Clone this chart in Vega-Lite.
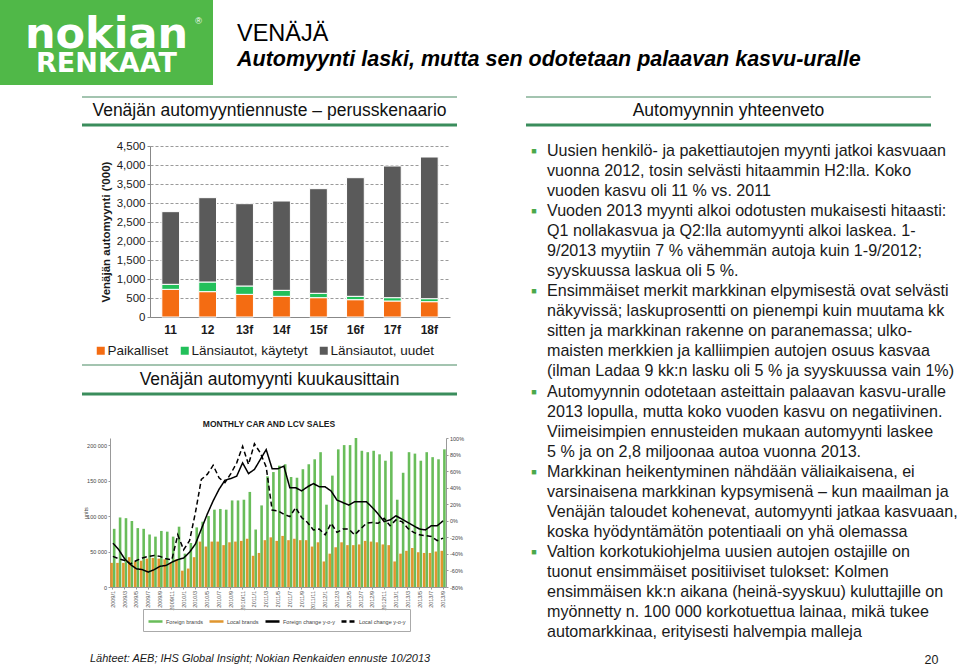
{
  "$schema": "https://vega.github.io/schema/vega-lite/v6.json",
  "padding": 0,
  "background": "white",
  "spacing": 11,
  "config": {"view": {"stroke": null}, "font": "Liberation Sans", "concat": {"spacing": 0}},
  "resolve": {"scale": {"color": "independent", "strokeDash": "independent"}, "legend": {"color": "independent", "strokeDash": "independent"}},
  "vconcat": [
    {
      "hconcat": [
        {
          "width": 213, "height": 85,
          "view": {"fill": "#50b848", "stroke": null},
          "data": {"values": [{"a": "nokian", "b": "RENKAAT", "c": "®"}]},
          "layer": [
            {"mark": {"type": "text", "font": "DejaVu Sans", "fontWeight": "bold", "fontSize": 43, "color": "white", "baseline": "alphabetic", "dy": 5}, "encoding": {"text": {"field": "a"}}},
            {"mark": {"type": "text", "font": "DejaVu Sans", "fontWeight": "bold", "fontSize": 27, "color": "white", "baseline": "alphabetic", "dy": 29.5}, "encoding": {"text": {"field": "b"}}},
            {"mark": {"type": "text", "fontSize": 9, "color": "white", "dx": 92, "dy": -22}, "encoding": {"text": {"field": "c"}}}
          ]
        },
        {"width": 23, "height": 1, "data": {"values": []}, "mark": "text", "encoding": {"text": {"value": ""}}},
        {
          "width": 2, "height": 85,
          "data": {"values": [{"t1": "VENÄJÄ", "t2": "Automyynti laski, mutta sen odotetaan palaavan kasvu-uralle"}]},
          "layer": [
            {"mark": {"type": "text", "align": "left", "baseline": "alphabetic", "fontSize": 23.5, "color": "#000000", "dy": -1.5}, "encoding": {"text": {"field": "t1"}}},
            {"mark": {"type": "text", "align": "left", "baseline": "alphabetic", "fontSize": 21.5, "fontWeight": "bold", "fontStyle": "italic", "color": "#000000", "dy": 23.5}, "encoding": {"text": {"field": "t2"}}}
          ]
        }
      ]
    },
    {
      "resolve": {"scale": {"color": "independent", "strokeDash": "independent"}, "legend": {"color": "independent", "strokeDash": "independent"}},
      "hconcat": [
        {"width": 80, "height": 1, "data": {"values": []}, "mark": "text", "encoding": {"text": {"value": ""}}},
        {
          "resolve": {"scale": {"color": "independent", "strokeDash": "independent"}, "legend": {"color": "independent", "strokeDash": "independent"}},
          "vconcat": [
            {
              "width": 375, "height": 28,
              "data": {"values": [{"t": "Venäjän automyyntiennuste – perusskenaario"}]},
              "layer": [
                {"mark": {"type": "rule", "color": "#a3c4b0", "strokeWidth": 2}, "encoding": {"y": {"datum": 1, "type": "quantitative", "scale": {"domain": [0, 1]}, "axis": null}}},
                {"mark": {"type": "rule", "color": "#3a8d5c", "strokeWidth": 3}, "encoding": {"y": {"datum": 0, "type": "quantitative"}}},
                {"mark": {"type": "text", "fontSize": 17.5, "color": "#111111"}, "encoding": {"text": {"field": "t"}}}
              ]
            },
            {"width": 1, "height": 12.75, "data": {"values": []}, "mark": "text", "encoding": {"text": {"value": ""}}},
            {
              "resolve": {"scale": {"color": "independent"}, "legend": {"color": "independent"}},
              "hconcat": [
                {"width": 12, "height": 1, "data": {"values": []}, "mark": "text", "encoding": {"text": {"value": ""}}},
                {
                  "width": 300, "height": 171,
                  "data": {"values": [
                    {"y": "11", "Paikalliset": 728, "Länsiautot, käytetyt": 132, "Länsiautot, uudet": 1912},
                    {"y": "12", "Paikalliset": 667, "Länsiautot, käytetyt": 254, "Länsiautot, uudet": 2219},
                    {"y": "13f", "Paikalliset": 596, "Länsiautot, käytetyt": 220, "Länsiautot, uudet": 2166},
                    {"y": "14f", "Paikalliset": 544, "Länsiautot, käytetyt": 158, "Länsiautot, uudet": 2350},
                    {"y": "15f", "Paikalliset": 509, "Länsiautot, käytetyt": 114, "Länsiautot, uudet": 2754},
                    {"y": "16f", "Paikalliset": 456, "Länsiautot, käytetyt": 88, "Länsiautot, uudet": 3122},
                    {"y": "17f", "Paikalliset": 421, "Länsiautot, käytetyt": 88, "Länsiautot, uudet": 3464},
                    {"y": "18f", "Paikalliset": 403, "Länsiautot, käytetyt": 79, "Länsiautot, uudet": 3728}
                  ]},
                  "transform": [
                    {"fold": ["Paikalliset", "Länsiautot, käytetyt", "Länsiautot, uudet"], "as": ["k", "v"]},
                    {"window": [{"op": "row_number", "as": "o"}], "groupby": ["y"]}
                  ],
                  "mark": {"type": "bar", "stroke": "white", "strokeWidth": 1},
                  "encoding": {
                    "x": {"field": "y", "type": "ordinal", "sort": null, "scale": {"paddingInner": 0.52, "paddingOuter": 0.32},
                      "axis": {"title": null, "labelAngle": 0, "labelFontWeight": "bold", "labelFontSize": 12, "labelColor": "#1a1a1a", "domainColor": "#888888", "ticks": false, "labelPadding": 7}},
                    "y": {"field": "v", "type": "quantitative", "stack": "zero", "scale": {"domain": [0, 4500], "nice": false},
                      "axis": {"values": [0, 500, 1000, 1500, 2000, 2500, 3000, 3500, 4000, 4500], "format": ",d", "title": "Venäjän automyynti ('000)", "titleFontSize": 11.5, "titleFontWeight": "bold", "titleColor": "#1a1a1a", "labelFontSize": 11.5, "labelColor": "#1a1a1a", "gridDash": [3, 2], "gridColor": "#9a9a9a", "domainColor": "#888888", "tickSize": 3, "tickColor": "#888888", "labelPadding": 2, "titlePadding": 5}},
                    "color": {"field": "k", "type": "nominal",
                      "scale": {"domain": ["Paikalliset", "Länsiautot, käytetyt", "Länsiautot, uudet"], "range": ["#f46c12", "#22c05a", "#5a5a5a"]},
                      "legend": {"title": null, "orient": "none", "legendX": -56, "legendY": 198, "direction": "horizontal", "gridAlign": "none", "symbolType": "square", "symbolSize": 64, "symbolStrokeWidth": 0, "labelFontSize": 13.5, "labelColor": "#1a1a1a", "columnPadding": 9, "labelOffset": 0}},
                    "order": {"field": "o", "type": "quantitative"}
                  }
                }
              ]
            },
            {"width": 1, "height": 6, "data": {"values": []}, "mark": "text", "encoding": {"text": {"value": ""}}},
            {
              "width": 375, "height": 29,
              "data": {"values": [{"t": "Venäjän automyynti kuukausittain"}]},
              "layer": [
                {"mark": {"type": "rule", "color": "#a3c4b0", "strokeWidth": 2}, "encoding": {"y": {"datum": 1, "type": "quantitative", "scale": {"domain": [0, 1]}, "axis": null}}},
                {"mark": {"type": "rule", "color": "#3a8d5c", "strokeWidth": 3}, "encoding": {"y": {"datum": 0, "type": "quantitative"}}},
                {"mark": {"type": "text", "fontSize": 17.5, "color": "#111111"}, "encoding": {"text": {"field": "t"}}}
              ]
            },
            {"width": 1, "height": 23, "data": {"values": []}, "mark": "text", "encoding": {"text": {"value": ""}}},
            {
              "hconcat": [
                {"width": 1, "height": 1, "data": {"values": []}, "mark": "text", "encoding": {"text": {"value": ""}}},
                {
                  "width": 336, "height": 149,
                  "title": {"text": "MONTHLY CAR AND LCV SALES", "fontSize": 8.5, "fontWeight": "bold", "color": "#1a1a1a", "anchor": "middle", "dx": -9, "offset": 8},
                  "data": {"values": [
                    {"m": "2009/1", "Foreign brands": 82, "Local brands": 34, "Foreign change y-o-y": -27, "Local change y-o-y": -43},
                    {"m": "2009/2", "Foreign brands": 98, "Local brands": 34, "Foreign change y-o-y": -35, "Local change y-o-y": -46},
                    {"m": "2009/3", "Foreign brands": 97, "Local brands": 34, "Foreign change y-o-y": -46, "Local change y-o-y": -48},
                    {"m": "2009/4", "Foreign brands": 93, "Local brands": 42, "Foreign change y-o-y": -53, "Local change y-o-y": -52},
                    {"m": "2009/5", "Foreign brands": 83, "Local brands": 36, "Foreign change y-o-y": -58, "Local change y-o-y": -48},
                    {"m": "2009/6", "Foreign brands": 82, "Local brands": 37, "Foreign change y-o-y": -59, "Local change y-o-y": -45},
                    {"m": "2009/7", "Foreign brands": 74, "Local brands": 40, "Foreign change y-o-y": -62, "Local change y-o-y": -43},
                    {"m": "2009/8", "Foreign brands": 71, "Local brands": 41, "Foreign change y-o-y": -59, "Local change y-o-y": -42},
                    {"m": "2009/9", "Foreign brands": 79, "Local brands": 40, "Foreign change y-o-y": -55, "Local change y-o-y": -43},
                    {"m": "2009/10", "Foreign brands": 78, "Local brands": 39, "Foreign change y-o-y": -54, "Local change y-o-y": -46},
                    {"m": "2009/11", "Foreign brands": 71, "Local brands": 34, "Foreign change y-o-y": -50, "Local change y-o-y": -47},
                    {"m": "2009/12", "Foreign brands": 85, "Local brands": 39, "Foreign change y-o-y": -47, "Local change y-o-y": -17},
                    {"m": "2010/1", "Foreign brands": 47, "Local brands": 23, "Foreign change y-o-y": -45, "Local change y-o-y": -35},
                    {"m": "2010/2", "Foreign brands": 62, "Local brands": 26, "Foreign change y-o-y": -38, "Local change y-o-y": -24},
                    {"m": "2010/3", "Foreign brands": 84, "Local brands": 42, "Foreign change y-o-y": -28, "Local change y-o-y": 10},
                    {"m": "2010/4", "Foreign brands": 92, "Local brands": 64, "Foreign change y-o-y": -10, "Local change y-o-y": 50},
                    {"m": "2010/5", "Foreign brands": 100, "Local brands": 57, "Foreign change y-o-y": 8, "Local change y-o-y": 56},
                    {"m": "2010/6", "Foreign brands": 109, "Local brands": 64, "Foreign change y-o-y": 24, "Local change y-o-y": 67},
                    {"m": "2010/7", "Foreign brands": 110, "Local brands": 64, "Foreign change y-o-y": 38, "Local change y-o-y": 52},
                    {"m": "2010/8", "Foreign brands": 109, "Local brands": 59, "Foreign change y-o-y": 49, "Local change y-o-y": 46},
                    {"m": "2010/9", "Foreign brands": 122, "Local brands": 63, "Foreign change y-o-y": 51, "Local change y-o-y": 57},
                    {"m": "2010/10", "Foreign brands": 122, "Local brands": 64, "Foreign change y-o-y": 54, "Local change y-o-y": 70},
                    {"m": "2010/11", "Foreign brands": 123, "Local brands": 65, "Foreign change y-o-y": 70, "Local change y-o-y": 90},
                    {"m": "2010/12", "Foreign brands": 134, "Local brands": 68, "Foreign change y-o-y": 57, "Local change y-o-y": 68},
                    {"m": "2011/1", "Foreign brands": 81, "Local brands": 44, "Foreign change y-o-y": 62, "Local change y-o-y": 93},
                    {"m": "2011/2", "Foreign brands": 115, "Local brands": 48, "Foreign change y-o-y": 74, "Local change y-o-y": 82},
                    {"m": "2011/3", "Foreign brands": 156, "Local brands": 66, "Foreign change y-o-y": 86, "Local change y-o-y": 65},
                    {"m": "2011/4", "Foreign brands": 162, "Local brands": 70, "Foreign change y-o-y": 63, "Local change y-o-y": 13},
                    {"m": "2011/5", "Foreign brands": 171, "Local brands": 65, "Foreign change y-o-y": 63, "Local change y-o-y": 12},
                    {"m": "2011/6", "Foreign brands": 173, "Local brands": 72, "Foreign change y-o-y": 66, "Local change y-o-y": 8},
                    {"m": "2011/7", "Foreign brands": 155, "Local brands": 66, "Foreign change y-o-y": 40, "Local change y-o-y": 5},
                    {"m": "2011/8", "Foreign brands": 154, "Local brands": 68, "Foreign change y-o-y": 40, "Local change y-o-y": 16},
                    {"m": "2011/9", "Foreign brands": 166, "Local brands": 66, "Foreign change y-o-y": 36, "Local change y-o-y": 4},
                    {"m": "2011/10", "Foreign brands": 173, "Local brands": 66, "Foreign change y-o-y": 41, "Local change y-o-y": -2},
                    {"m": "2011/11", "Foreign brands": 180, "Local brands": 57, "Foreign change y-o-y": 45, "Local change y-o-y": -11},
                    {"m": "2011/12", "Foreign brands": 190, "Local brands": 63, "Foreign change y-o-y": 41, "Local change y-o-y": -10},
                    {"m": "2012/1", "Foreign brands": 116, "Local brands": 36, "Foreign change y-o-y": 41, "Local change y-o-y": -17},
                    {"m": "2012/2", "Foreign brands": 157, "Local brands": 47, "Foreign change y-o-y": 36, "Local change y-o-y": -3},
                    {"m": "2012/3", "Foreign brands": 194, "Local brands": 56, "Foreign change y-o-y": 25, "Local change y-o-y": -14},
                    {"m": "2012/4", "Foreign brands": 200, "Local brands": 63, "Foreign change y-o-y": 22, "Local change y-o-y": -10},
                    {"m": "2012/5", "Foreign brands": 200, "Local brands": 59, "Foreign change y-o-y": 19, "Local change y-o-y": -10},
                    {"m": "2012/6", "Foreign brands": 210, "Local brands": 59, "Foreign change y-o-y": 23, "Local change y-o-y": -17},
                    {"m": "2012/7", "Foreign brands": 192, "Local brands": 60, "Foreign change y-o-y": 23, "Local change y-o-y": -10},
                    {"m": "2012/8", "Foreign brands": 190, "Local brands": 65, "Foreign change y-o-y": 23, "Local change y-o-y": -3},
                    {"m": "2012/9", "Foreign brands": 192, "Local brands": 64, "Foreign change y-o-y": 16, "Local change y-o-y": -2},
                    {"m": "2012/10", "Foreign brands": 187, "Local brands": 63, "Foreign change y-o-y": 8, "Local change y-o-y": -3},
                    {"m": "2012/11", "Foreign brands": 178, "Local brands": 60, "Foreign change y-o-y": -1, "Local change y-o-y": 3},
                    {"m": "2012/12", "Foreign brands": 191, "Local brands": 59, "Foreign change y-o-y": 1, "Local change y-o-y": -6},
                    {"m": "2013/1", "Foreign brands": 123, "Local brands": 36, "Foreign change y-o-y": 6, "Local change y-o-y": 1},
                    {"m": "2013/2", "Foreign brands": 161, "Local brands": 47, "Foreign change y-o-y": 2, "Local change y-o-y": -1},
                    {"m": "2013/3", "Foreign brands": 190, "Local brands": 51, "Foreign change y-o-y": -2, "Local change y-o-y": -9},
                    {"m": "2013/4", "Foreign brands": 188, "Local brands": 55, "Foreign change y-o-y": -6, "Local change y-o-y": -14},
                    {"m": "2013/5", "Foreign brands": 178, "Local brands": 49, "Foreign change y-o-y": -10, "Local change y-o-y": -17},
                    {"m": "2013/6", "Foreign brands": 190, "Local brands": 48, "Foreign change y-o-y": -11, "Local change y-o-y": -18},
                    {"m": "2013/7", "Foreign brands": 183, "Local brands": 48, "Foreign change y-o-y": -6, "Local change y-o-y": -19},
                    {"m": "2013/8", "Foreign brands": 180, "Local brands": 50, "Foreign change y-o-y": -6, "Local change y-o-y": -24},
                    {"m": "2013/9", "Foreign brands": 194, "Local brands": 51, "Foreign change y-o-y": 0, "Local change y-o-y": -21}
                  ]},
                  "encoding": {
                    "x": {"field": "m", "type": "ordinal", "sort": null, "scale": {"paddingInner": 0.12, "paddingOuter": 0.05},
                      "axis": {"title": null, "values": ["2009/1","2009/3","2009/5","2009/7","2009/9","2009/11","2010/1","2010/3","2010/5","2010/7","2010/9","2010/11","2011/1","2011/3","2011/5","2011/7","2011/9","2011/11","2012/1","2012/3","2012/5","2012/7","2012/9","2012/11","2013/1","2013/3","2013/5","2013/7","2013/9"],
                        "labelAngle": -90, "labelFontSize": 5.5, "labelColor": "#555555", "domainColor": "#999999", "tickColor": "#999999", "tickSize": 2, "labelPadding": 1.5}}
                  },
                  "layer": [
                    {
                      "transform": [{"fold": ["Foreign brands", "Local brands"], "as": ["k", "v"]}],
                      "mark": {"type": "bar"},
                      "encoding": {
                        "xOffset": {"field": "k", "type": "nominal", "sort": ["Local brands", "Foreign brands"], "scale": {"paddingInner": 0}},
                        "y": {"field": "v", "type": "quantitative", "scale": {"domain": [0, 210], "nice": false},
                          "axis": {"values": [0, 50, 100, 150, 200], "labelExpr": "datum.value == 0 ? '0' : datum.value + ' 000'", "grid": false, "title": "units", "titleFontSize": 5.5, "titleFontWeight": "normal", "titleColor": "#444444", "titlePadding": -2, "labelFontSize": 5.5, "labelColor": "#444444", "domainColor": "#999999", "tickColor": "#999999", "tickSize": 2, "labelPadding": 1.5}},
                        "color": {"field": "k", "type": "nominal",
                          "scale": {"domain": ["Foreign brands", "Local brands", "Foreign change y-o-y", "Local change y-o-y"], "range": ["#69bd5a", "#e0962f", "#000000", "#000000"]},
                          "legend": {"title": null, "orient": "none", "legendX": 61, "legendY": 171, "direction": "horizontal", "gridAlign": "none", "symbolType": "stroke", "symbolSize": 196, "symbolStrokeWidth": 2.5, "labelFontSize": 5.5, "labelColor": "#444444", "columnPadding": 1, "labelOffset": 2, "strokeColor": "#aaaaaa", "padding": 4}}
                      }
                    },
                    {
                      "transform": [{"fold": ["Foreign change y-o-y", "Local change y-o-y"], "as": ["k", "v"]}],
                      "mark": {"type": "line", "strokeWidth": 1.5},
                      "encoding": {
                        "y": {"field": "v", "type": "quantitative", "scale": {"domain": [-80, 100], "nice": false},
                          "axis": {"orient": "right", "values": [-80, -60, -40, -20, 0, 20, 40, 60, 80, 100], "labelExpr": "datum.value + '%'", "grid": false, "title": null, "labelFontSize": 5.5, "labelColor": "#444444", "domainColor": "#999999", "tickColor": "#999999", "tickSize": 2, "labelPadding": 1.5}},
                        "color": {"field": "k", "type": "nominal",
                          "scale": {"domain": ["Foreign brands", "Local brands", "Foreign change y-o-y", "Local change y-o-y"], "range": ["#69bd5a", "#e0962f", "#000000", "#000000"]},
                          "legend": {"title": null, "orient": "none", "legendX": 61, "legendY": 171, "direction": "horizontal", "gridAlign": "none", "symbolType": "stroke", "symbolSize": 196, "symbolStrokeWidth": 2.5, "labelFontSize": 5.5, "labelColor": "#444444", "columnPadding": 1, "labelOffset": 2, "strokeColor": "#aaaaaa", "padding": 4}},
                        "strokeDash": {"field": "k", "type": "nominal",
                          "scale": {"domain": ["Foreign brands", "Local brands", "Foreign change y-o-y", "Local change y-o-y"], "range": [[1, 0], [1, 0], [1, 0], [5, 3]]},
                          "legend": {"title": null, "orient": "none", "legendX": 61, "legendY": 171, "direction": "horizontal", "gridAlign": "none", "symbolType": "stroke", "symbolSize": 196, "symbolStrokeWidth": 2.5, "labelFontSize": 5.5, "labelColor": "#444444", "columnPadding": 1, "labelOffset": 2, "strokeColor": "#aaaaaa", "padding": 4}}
                      }
                    }
                  ],
                  "resolve": {"scale": {"y": "independent"}}
                }
              ]
            },
            {"width": 1, "height": 21, "data": {"values": []}, "mark": "text", "encoding": {"text": {"value": ""}}},
            {
              "width": 16, "height": 12,
              "data": {"values": [{"t": "Lähteet: AEB; IHS Global Insight; Nokian  Renkaiden  ennuste 10/2013"}]},
              "mark": {"type": "text", "align": "left", "fontSize": 11, "fontStyle": "italic", "color": "#1a1a1a"},
              "encoding": {"text": {"field": "t"}}
            }
          ]
        },
        {"width": 60, "height": 1, "data": {"values": []}, "mark": "text", "encoding": {"text": {"value": ""}}},
        {
          "vconcat": [
            {
              "width": 405, "height": 28,
              "data": {"values": [{"t": "Automyynnin yhteenveto"}]},
              "layer": [
                {"mark": {"type": "rule", "color": "#a3c4b0", "strokeWidth": 2}, "encoding": {"y": {"datum": 1, "type": "quantitative", "scale": {"domain": [0, 1]}, "axis": null}}},
                {"mark": {"type": "rule", "color": "#3a8d5c", "strokeWidth": 3}, "encoding": {"y": {"datum": 0, "type": "quantitative"}}},
                {"mark": {"type": "text", "fontSize": 17.5, "color": "#111111"}, "encoding": {"text": {"field": "t"}}}
              ]
            },
            {"width": 1, "height": 13.5, "data": {"values": []}, "mark": "text", "encoding": {"text": {"value": ""}}},
            {
              "width": 42, "height": 501,
              "layer": [
                {
                  "data": {"values": [
                    {"line": 1, "text": "Uusien henkilö- ja pakettiautojen myynti jatkoi kasvuaan"},
                    {"line": 2, "text": "vuonna 2012,  tosin selvästi hitaammin H2:lla. Koko"},
                    {"line": 3, "text": "vuoden kasvu oli 11 % vs. 2011"},
                    {"line": 4, "text": "Vuoden 2013 myynti alkoi odotusten mukaisesti hitaasti:"},
                    {"line": 5, "text": "Q1 nollakasvua ja Q2:lla automyynti alkoi laskea. 1-"},
                    {"line": 6, "text": "9/2013  myytiin 7 % vähemmän autoja kuin 1-9/2012;"},
                    {"line": 7, "text": "syyskuussa laskua oli 5 %."},
                    {"line": 8, "text": "Ensimmäiset merkit markkinan elpymisestä ovat selvästi"},
                    {"line": 9, "text": "näkyvissä; laskuprosentti on pienempi kuin muutama kk"},
                    {"line": 10, "text": "sitten ja markkinan rakenne on paranemassa; ulko-"},
                    {"line": 11, "text": "maisten merkkien ja kalliimpien autojen osuus kasvaa"},
                    {"line": 12, "text": "(ilman Ladaa 9 kk:n lasku oli 5 % ja syyskuussa vain 1%)"},
                    {"line": 13, "text": "Automyynnin odotetaan asteittain palaavan kasvu-uralle"},
                    {"line": 14, "text": "2013 lopulla, mutta koko vuoden kasvu on negatiivinen."},
                    {"line": 15, "text": "Viimeisimpien ennusteiden mukaan automyynti laskee"},
                    {"line": 16, "text": "5 % ja on 2,8 miljoonaa autoa vuonna 2013."},
                    {"line": 17, "text": "Markkinan heikentyminen nähdään väliaikaisena, ei"},
                    {"line": 18, "text": "varsinaisena markkinan kypsymisenä – kun maailman ja"},
                    {"line": 19, "text": "Venäjän taloudet kohenevat, automyynti jatkaa kasvuaan,"},
                    {"line": 20, "text": "koska hyödyntämätön potentiaali on yhä olemassa"},
                    {"line": 21, "text": "Valtion korkotukiohjelma uusien autojen ostajille on"},
                    {"line": 22, "text": "tuonut ensimmäiset positiiviset tulokset: Kolmen"},
                    {"line": 23, "text": "ensimmäisen kk:n aikana (heinä-syyskuu) kuluttajille on"},
                    {"line": 24, "text": "myönnetty n. 100 000 korkotuettua lainaa, mikä tukee"},
                    {"line": 25, "text": "automarkkinaa, erityisesti halvempia malleja"}
                  ]},
                  "mark": {"type": "text", "align": "left", "baseline": "middle", "fontSize": 16.1, "color": "#1a1a1a"},
                  "encoding": {
                    "y": {"field": "line", "type": "quantitative", "scale": {"domain": [0.5, 25.5], "reverse": true, "nice": false, "zero": false}, "axis": null},
                    "text": {"field": "text"}
                  }
                },
                {
                  "data": {"values": [{"line": 1}, {"line": 4}, {"line": 8}, {"line": 13}, {"line": 17}, {"line": 21}]},
                  "mark": {"type": "text", "align": "center", "baseline": "middle", "fontSize": 9, "color": "#4aa84a", "dx": -13},
                  "encoding": {
                    "y": {"field": "line", "type": "quantitative"},
                    "text": {"value": "■"}
                  }
                }
              ]
            },
            {"width": 1, "height": 11, "data": {"values": []}, "mark": "text", "encoding": {"text": {"value": ""}}},
            {
              "width": 405, "height": 13,
              "data": {"values": [{"t": "20"}]},
              "mark": {"type": "text", "fontSize": 12.5, "color": "#1a1a1a", "dx": 203},
              "encoding": {"text": {"field": "t"}}
            }
          ]
        }
      ]
    }
  ]
}
